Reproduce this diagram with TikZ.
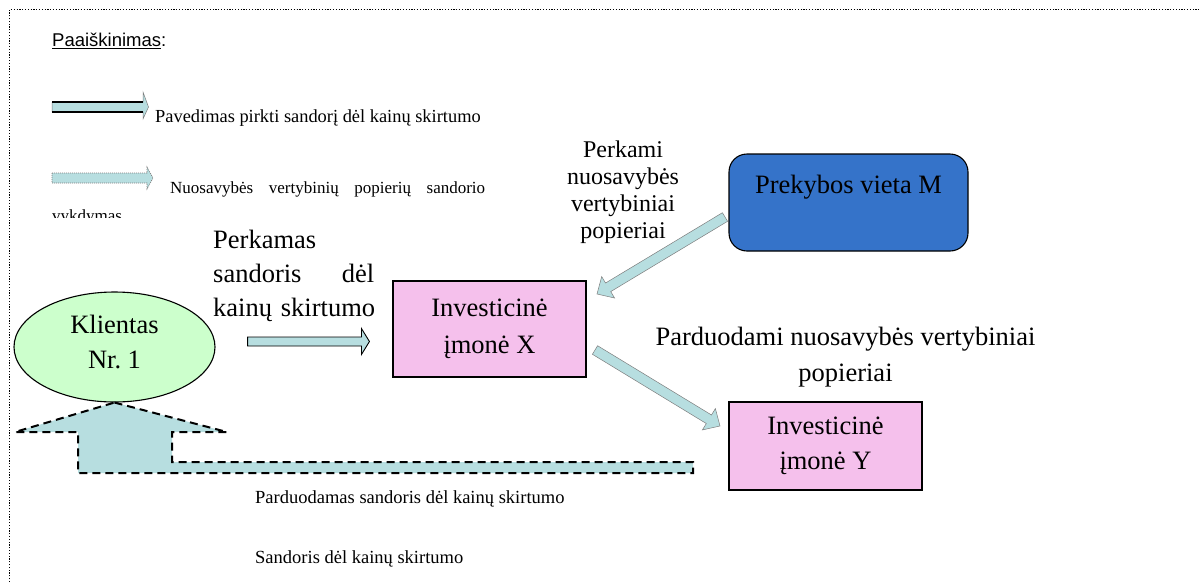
\documentclass[tikz,border=0pt]{standalone}
\usepackage{fontspec}
\setmainfont{Liberation Serif}
\setsansfont{Liberation Sans}
\usetikzlibrary{shapes.geometric,calc}
\definecolor{lblue}{RGB}{183,222,224}
\definecolor{lgreen}{RGB}{204,255,204}
\definecolor{lpink}{RGB}{245,192,236}
\definecolor{mblue}{RGB}{53,115,201}
\definecolor{agray}{RGB}{125,125,125}
\hbadness=10000
\hfuzz=20pt
\newcommand\blkarrow[6][]{%
  \draw[#1] let \p1=($(#3)-(#2)$), \n1={atan2(\y1,\x1)} in
    ($(#2)+({\n1+90}:#4)$)
    -- ($(#3)+({\n1+180}:#6)+({\n1+90}:#4)$)
    -- ($(#3)+({\n1+180}:#6)+({\n1+90}:#5)$)
    -- (#3)
    -- ($(#3)+({\n1+180}:#6)+({\n1-90}:#5)$)
    -- ($(#3)+({\n1+180}:#6)+({\n1-90}:#4)$)
    -- ($(#2)+({\n1-90}:#4)$) -- cycle;}
\begin{document}
\begin{tikzpicture}[x=1pt,y=-1pt,
  pbox/.style={draw=black, line width=1.1pt, fill=lpink, align=center, minimum width=193pt},
  mainfont/.style={font=\fontsize{26.5}{#1}\selectfont},
  smallfont/.style={font=\fontsize{18.5}{22}\selectfont},
  solidarrow/.style={fill=lblue, draw=agray, line width=0.5pt},
  blackarrow/.style={fill=lblue, draw=black, line width=0.9pt},
  dashedarrow/.style={fill=lblue, draw=black, line width=2pt, dash pattern=on 8pt off 5pt},
  dottedarrow/.style={fill=lblue, draw=agray, line width=0.7pt, dash pattern=on 1pt off 1pt},
  frame/.style={draw=black, line width=1.3pt, dash pattern=on 1.2pt off 1.6pt}]
\useasboundingbox (0,0) rectangle (1200,582);
% frame (only top and left edges visible)
\coordinate (fbl) at (9.5,582);
\coordinate (ftl) at (9.5,9.5);
\coordinate (ftr) at (1200,9.5);
\draw[frame] (fbl) -- (ftl) -- (ftr);

% legend
\node[anchor=base west, inner sep=0, font=\sffamily\fontsize{18.5}{22}\selectfont] (leg) at (52,46.7) {\underline{Paaiškinimas}:};
\draw[solidarrow] (52,102) -- (143,102) -- (143,92) -- (148.5,107) -- (143,119) -- (143,112) -- (52,112) -- cycle;
\draw[black, line width=1.3pt] (52,102) -- (143,102) (52,112) -- (143,112);
\node[anchor=base west, inner sep=0, font=\fontsize{18.4}{22}\selectfont] (legt1) at (155,122) {Pavedimas pirkti sandorį dėl kainų skirtumo};
\draw[dottedarrow] (52,173) -- (147,173) -- (147,167) -- (153,178) -- (147,189) -- (147,183) -- (52,183) -- cycle;
\begin{scope}
  \clip (40,150) rectangle (520,217);
  \node[anchor=base west, inner sep=0] (legt2) at (52,193) {\parbox[t]{433pt}{\fontsize{17}{28}\selectfont\hspace*{118pt}Nuosavybės vertybinių popierių sandorio vykdymas}};
\end{scope}

% nodes
\node[ellipse, draw=black, line width=1.1pt, fill=lgreen, minimum width=201pt, minimum height=110pt, inner sep=0] (K) at (114.5,347) {};
\node[align=center, mainfont=35, inner sep=0] (Klbl) at (114.5,342.4) {Klientas\\Nr.~1};

\node[pbox, mainfont=37, minimum height=96pt] (X) at (489.5,329) {Investicinė\\įmonė X};
\node[pbox, mainfont=35, minimum height=88pt] (Y) at (825.5,446) {Investicinė\\įmonė Y};

\node[draw=black, line width=1.1pt, fill=mblue, rounded corners=18pt, minimum width=239pt, minimum height=97pt] (M) at (848.5,202.5) {};
\node[anchor=base, inner sep=0, mainfont=30] (Mlbl) at (848.5,193) {Prekybos vieta M};

% labels
\node[anchor=north west, inner sep=0, text width=161pt, align=left, mainfont=34] (perkamas) at (213,229.9) {Perkamas\\sandoris\hfill dėl\\\mbox{kainų skirtumo}};
\node[align=center, inner sep=0, font=\fontsize{24}{27}\selectfont] (perkami) at (623,191.9) {Perkami\\nuosavybės\\vertybiniai\\popieriai};
\node[align=center, inner sep=0, mainfont=36] (pard) at (845.5,356.9) {Parduodami nuosavybės vertybiniai\\popieriai};
\node[anchor=base west, inner sep=0, smallfont] (bt1) at (255,503) {Parduodamas sandoris dėl kainų skirtumo};
\node[anchor=base west, inner sep=0, smallfont] (bt2) at (255,563) {Sandoris dėl kainų skirtumo};

% connectors
\coordinate (a1s) at ([xshift=32pt,yshift=5.5pt]K.east);
\coordinate (a1e) at ([xshift=-23pt,yshift=-12.5pt]X.west);
\blkarrow[blackarrow]{a1s}{a1e}{4.5pt}{13pt}{8pt}

\coordinate (a2s) at (725,217);
\coordinate (a2e) at (597,294);
\blkarrow[solidarrow]{a2s}{a2e}{5pt}{12.5pt}{13pt}

\coordinate (a3s) at (595,350);
\coordinate (a3e) at (720,426);
\blkarrow[solidarrow]{a3s}{a3e}{5pt}{12.5pt}{13pt}

% dashed return arrow (Y -> Klientas)
\coordinate (rtip) at (K.south);
\draw[dashedarrow] (rtip) -- (227,432) -- (172,432) -- (172,462) -- (693,462) -- (693,473) -- (78,473) -- (78,432) -- (15,432) -- cycle;
\end{tikzpicture}
\end{document}
